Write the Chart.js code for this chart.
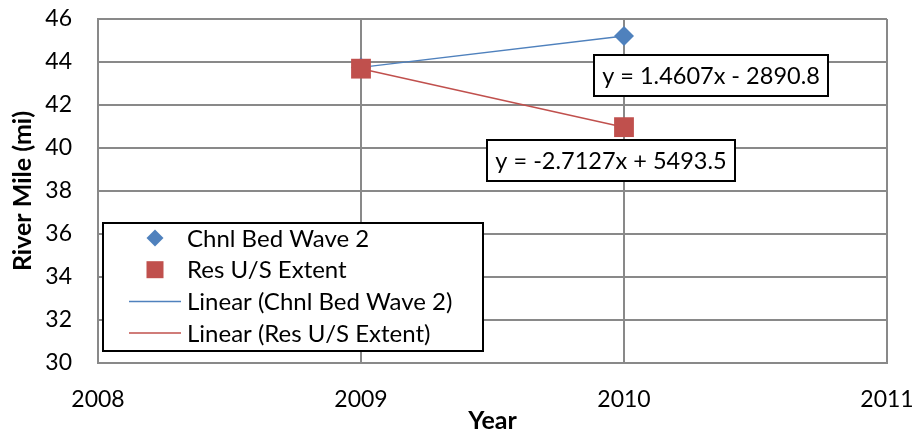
<!DOCTYPE html>
<html>
<head>
<meta charset="utf-8">
<script src="https://cdn.jsdelivr.net/npm/chart.js@4"></script>
<style>
  html, body { margin: 0; padding: 0; background: #fff; }
  #wrap { width: 917px; height: 436px; }
</style>
</head>
<body>
<div id="wrap"><canvas id="myChart" width="917" height="436"></canvas></div>
<script>
// datos
const years = [2009, 2010];
const chnlBedWave2 = [43.75, 45.21];
const resUSExtent = [43.69, 40.97];
const trendChnl = [43.75, 45.21];
const trendRes = [43.69, 40.97];
const xTicks = [2008, 2009, 2010, 2011];
const yTicks = [30, 32, 34, 36, 38, 40, 42, 44, 46];
const eqChnl = "y = 1.4607x - 2890.8";
const eqRes = "y = -2.7127x + 5493.5";

const azul = "#4F81BD";
const rojo = "#C0504D";
const gris = "#898989";
const fuente = "Lato, 'Open Sans', sans-serif";

function puntos(valores) {
  return years.map((a, i) => ({ x: a, y: valores[i] }));
}

// leyenda y cajas de ecuaciones dibujadas a mano
const extras = {
  id: "extras",
  afterDatasetsDraw(chart) {
    const ctx = chart.ctx;
    ctx.save();
    ctx.textBaseline = "middle";

    // cajas de ecuaciones
    ctx.font = "23.5px " + fuente;
    const cajas = [
      { txt: eqChnl, x: 594, y: 55, w: 234, h: 41 },
      { txt: eqRes, x: 487, y: 140, w: 248, h: 41 }
    ];
    cajas.forEach(c => {
      ctx.fillStyle = "#fff";
      ctx.fillRect(c.x, c.y, c.w, c.h);
      ctx.strokeStyle = "#000";
      ctx.lineWidth = 2;
      ctx.strokeRect(c.x, c.y, c.w, c.h);
      ctx.fillStyle = "#000";
      ctx.textAlign = "center";
      ctx.fillText(c.txt, c.x + c.w / 2, c.y + c.h / 2 + 1);
    });

    // leyenda
    ctx.font = "24px " + fuente;
    const lx = 103, ly = 223, lw = 380, lh = 128;
    ctx.fillStyle = "#fff";
    ctx.fillRect(lx, ly, lw, lh);
    ctx.strokeStyle = "#000";
    ctx.lineWidth = 2;
    ctx.strokeRect(lx, ly, lw, lh);
    const filas = [
      { t: "Chnl Bed Wave 2", tipo: "diamante", c: azul },
      { t: "Res U/S Extent", tipo: "cuadro", c: rojo },
      { t: "Linear (Chnl Bed Wave 2)", tipo: "linea", c: azul },
      { t: "Linear (Res U/S Extent)", tipo: "linea", c: rojo }
    ];
    filas.forEach((f, i) => {
      const cy = 238 + i * 31.7;
      const cx = 155;
      ctx.fillStyle = f.c;
      ctx.strokeStyle = f.c;
      if (f.tipo == "diamante") {
        ctx.beginPath();
        ctx.moveTo(cx, cy - 8.5);
        ctx.lineTo(cx + 8.5, cy);
        ctx.lineTo(cx, cy + 8.5);
        ctx.lineTo(cx - 8.5, cy);
        ctx.closePath();
        ctx.fill();
      } else if (f.tipo == "cuadro") {
        ctx.fillRect(cx - 8.5, cy - 8.5, 17, 17);
      } else {
        ctx.lineWidth = 1.5;
        ctx.beginPath();
        ctx.moveTo(129, cy);
        ctx.lineTo(181, cy);
        ctx.stroke();
      }
      ctx.fillStyle = "#000";
      ctx.textAlign = "left";
      ctx.fillText(f.t, 187, cy + 1);
    });
    ctx.restore();
  }
};

const config = {
  type: "scatter",
  data: {
    datasets: [
      {
        label: "Linear (Chnl Bed Wave 2)",
        data: puntos(trendChnl),
        showLine: true,
        borderColor: azul,
        borderWidth: 1.5,
        pointRadius: 0,
        order: 3
      },
      {
        label: "Linear (Res U/S Extent)",
        data: puntos(trendRes),
        showLine: true,
        borderColor: rojo,
        borderWidth: 1.5,
        pointRadius: 0,
        order: 4
      },
      {
        label: "Chnl Bed Wave 2",
        data: puntos(chnlBedWave2),
        pointStyle: "rectRot",
        pointRadius: 10,
        backgroundColor: azul,
        borderColor: azul,
        borderWidth: 0,
        order: 2
      },
      {
        label: "Res U/S Extent",
        data: puntos(resUSExtent),
        pointStyle: "rect",
        pointRadius: 14,
        backgroundColor: rojo,
        borderColor: rojo,
        borderWidth: 0,
        order: 1
      }
    ]
  },
  options: {
    responsive: false,
    animation: false,
    layout: { padding: { left: 0, right: 30, top: 19, bottom: 0 } },
    plugins: {
      legend: { display: false },
      tooltip: { enabled: false }
    },
    scales: {
      x: {
        type: "linear",
        min: 2008,
        max: 2011,
        afterBuildTicks: (axis) => { axis.ticks = xTicks.map(v => ({ value: v })); },
        afterFit: (axis) => { axis.height = 73; },
        grid: { color: gris, lineWidth: 2, drawTicks: true, tickLength: 23, tickColor: "rgba(0,0,0,0)" },
        border: { color: gris, width: 2 },
        ticks: {
          color: "#000",
          padding: 0,
          font: { family: fuente, size: 23 },
          callback: (v) => String(v)
        },
        title: {
          display: true,
          text: "Year",
          color: "#000",
          font: { family: fuente, size: 25, weight: "bold" },
          padding: { top: 0, bottom: 0 }
        }
      },
      y: {
        min: 30,
        max: 46,
        afterBuildTicks: (axis) => { axis.ticks = yTicks.map(v => ({ value: v })); },
        afterFit: (axis) => { axis.width = 98; },
        grid: { color: gris, lineWidth: 2, drawTicks: true, tickLength: 26, tickColor: "rgba(0,0,0,0)" },
        border: { color: gris, width: 2 },
        ticks: {
          color: "#000",
          padding: 0,
          font: { family: fuente, size: 23 }
        },
        title: {
          display: true,
          text: "River Mile (mi)",
          color: "#000",
          font: { family: fuente, size: 25, weight: "bold" },
          padding: { top: 8, bottom: 0 }
        }
      }
    }
  },
  plugins: [extras]
};

const chartDOM = document.getElementById("myChart");
const myChart = new Chart(chartDOM, config);
</script>
</body>
</html>
